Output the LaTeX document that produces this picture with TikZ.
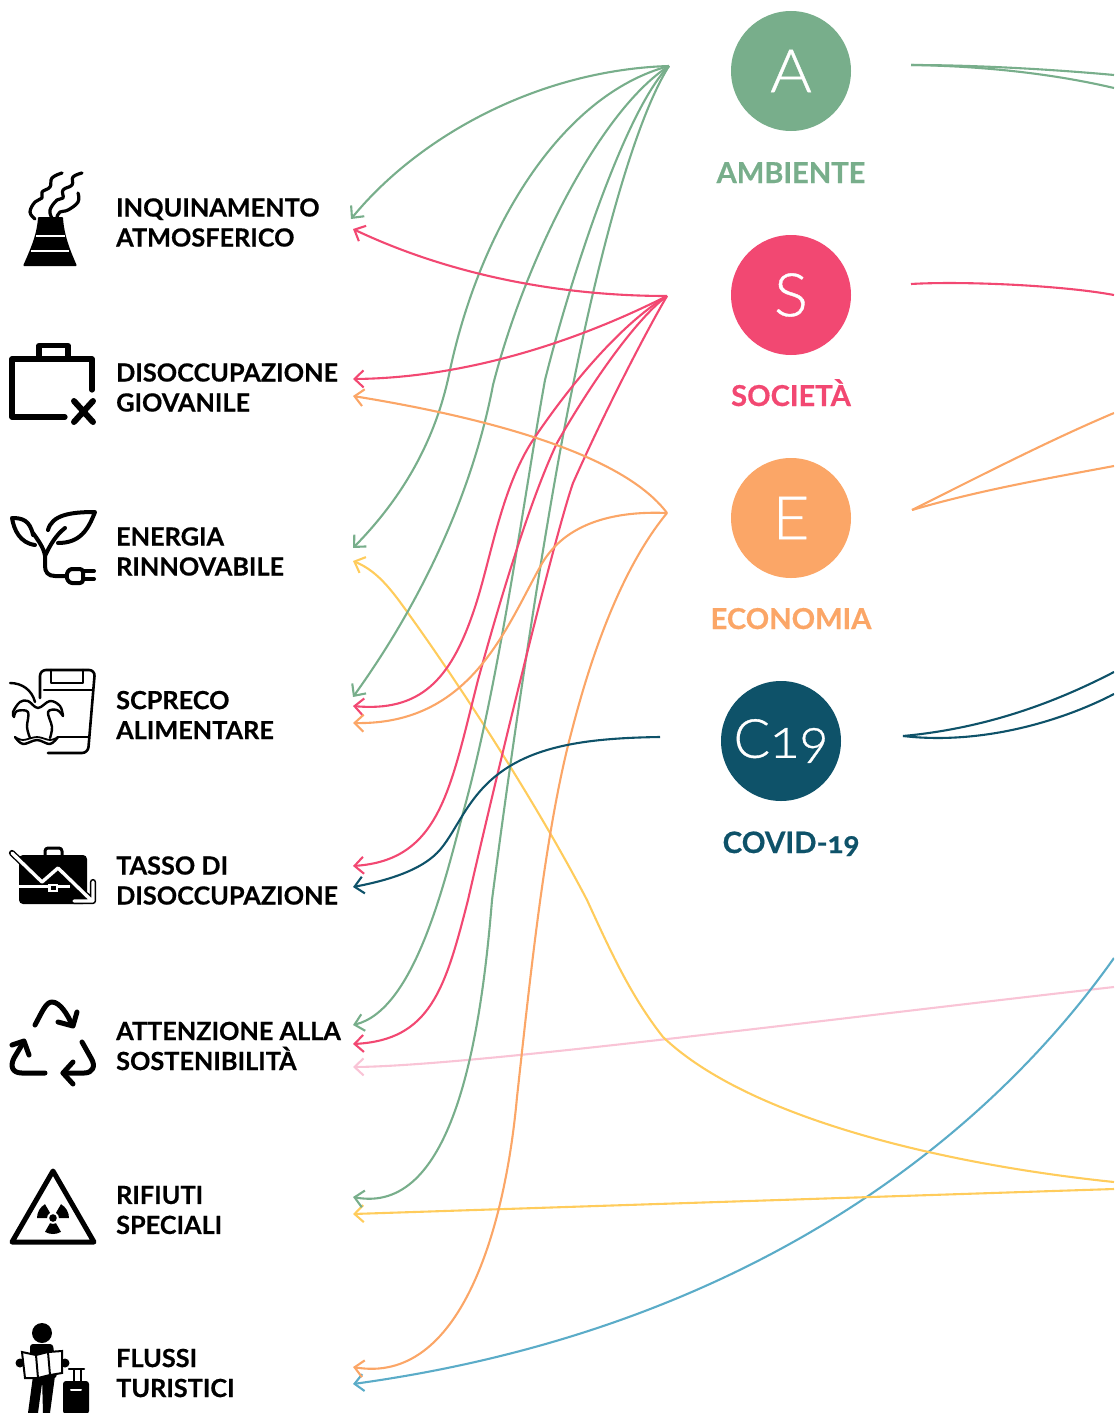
\documentclass[tikz,border=0pt]{standalone}
\usepackage{fontspec}
\usetikzlibrary{arrows.meta}
\setmainfont{Lato}
\newfontfamily\lblfont[FakeStretch=1.01,FakeBold=0.5]{Lato Bold}
\newfontfamily\onumfont[Numbers=OldStyle,FakeBold=0.5]{Lato Bold}
\newfontfamily\lightfont[FakeBold=0.6,FakeStretch=1.06]{Lato Light}
\newfontfamily\lightonum[Numbers=OldStyle,FakeBold=0.6]{Lato Light}
\definecolor{cgreen}{HTML}{78AE8B}
\definecolor{cred}{HTML}{F24872}
\definecolor{corange}{HTML}{FBA667}
\definecolor{cteal}{HTML}{0E5269}
\definecolor{cyellow}{HTML}{FFCC5C}
\definecolor{cpink}{HTML}{F9C4D6}
\definecolor{cblue}{HTML}{5BACC8}
\tikzset{
 link/.style={line width=2.1pt,-{Straight Barb[length=9pt,width=17pt,line width=2.1pt]}},
 plain/.style={line width=2.1pt},
 topic/.style={circle,minimum size=120pt,inner sep=0pt,text=white,font=\lightfont\fontsize{60}{60}\selectfont},
 topiclabel/.style={inner sep=0pt,anchor=base,font=\lblfont\fontsize{28.8}{30}\selectfont},
 itemlabel/.style={inner sep=0pt,anchor=west,align=left,text=black,font=\lblfont\fontsize{25}{30}\selectfont},
 ico/.style={line width=#1,line cap=round,line join=round,draw=black},
}
\begin{document}
\begin{tikzpicture}[x=1pt,y=-1pt]
\useasboundingbox (0,0) rectangle (1114,1413);
\clip (0,0) rectangle (1114,1413);
% sources
\coordinate (sA) at (669,66);
\coordinate (sS) at (667,296);
\coordinate (sE) at (667,513);
\coordinate (sC) at (660,737);
\coordinate (rA) at (911,65);
\coordinate (rS) at (911,284);
\coordinate (rE) at (912,510);
\coordinate (rC) at (903,736);
% targets
\coordinate (tI1) at (351,219);
\coordinate (tI2) at (353,229);
\coordinate (tD1) at (353,379);
\coordinate (tD2) at (353,396);
\coordinate (tR1) at (353,548);
\coordinate (tR2) at (353,561);
\coordinate (tP1) at (353,697);
\coordinate (tP2) at (353,706);
\coordinate (tP3) at (353,723);
\coordinate (tT1) at (353,866);
\coordinate (tT2) at (353,887);
\coordinate (tS1) at (353,1025);
\coordinate (tS2) at (353,1044);
\coordinate (tS3) at (353,1067);
\coordinate (tF1) at (353,1197);
\coordinate (tF2) at (353,1214);
\coordinate (tU1) at (353,1367);
\coordinate (tU2) at (353,1384);
\coordinate (eY1) at (1114,1182);
\coordinate (eY2) at (1114,1189);
\coordinate (eP) at (1114,987);
\coordinate (eB) at (1114,958);
\coordinate (eA1) at (1114,75);
\coordinate (eA2) at (1114,88);
\coordinate (eS) at (1114,295);
\coordinate (eE1) at (1114,413);
\coordinate (eE2) at (1114,466);
\coordinate (eC1) at (1114,672);
\coordinate (eC2) at (1114,694);
% pink, blue, yellow
\draw[link,cpink] (eP) .. controls (820,1020) and (470,1066) .. (tS3);
\draw[link,cblue] (eB) .. controls (985,1140) and (745,1330) .. (tU2);
\draw[link,cyellow] (eY1) .. controls (950,1165) and (750,1120) .. (663,1037) .. controls (630,995) and (610,950) .. (587,900) .. controls (540,810) and (470,700) .. (413,620) .. controls (395,595) and (380,572) .. (tR2);
\draw[link,cyellow] (eY2) -- (tF2);
% green
\draw[link,cgreen] (sA) .. controls (540,70) and (420,135) .. (tI1);
\draw[link,cgreen] (sA) .. controls (560,95) and (480,230) .. (450,370) .. controls (438,430) and (410,490) .. (tR1);
\draw[link,cgreen] (sA) .. controls (600,110) and (525,260) .. (493,385) .. controls (475,480) and (430,590) .. (tP1);
\draw[link,cgreen] (sA) .. controls (625,110) and (570,280) .. (545,380) .. controls (525,490) and (500,680) .. (463,813) .. controls (445,880) and (415,1010) .. (tS1);
\draw[link,cgreen] (sA) .. controls (635,120) and (600,250) .. (572,390) .. controls (545,520) and (510,760) .. (492,900) .. controls (480,1050) and (450,1215) .. (tF1);
% red
\draw[link,cred] (sS) .. controls (560,296) and (450,275) .. (tI2);
\draw[link,cred] (sS) .. controls (570,345) and (460,378) .. (tD1);
\draw[link,cred] (sS) .. controls (620,325) and (570,385) .. (533,440) .. controls (500,490) and (490,565) .. (473,613) .. controls (450,680) and (420,712) .. (tP2);
\draw[link,cred] (sS) .. controls (635,320) and (590,385) .. (557,443) .. controls (530,500) and (500,600) .. (478,680) .. controls (450,790) and (440,860) .. (tT1);
\draw[link,cred] (sS) .. controls (650,325) and (610,400) .. (573,483) .. controls (555,535) and (500,760) .. (468,900) .. controls (445,990) and (430,1040) .. (tS2);
% orange
\draw[link,corange] (sE) .. controls (620,450) and (470,415) .. (tD2);
\draw[link,corange] (sE) .. controls (620,511) and (565,520) .. (540,567) .. controls (505,630) and (470,725) .. (tP3);
\draw[link,corange] (sE) .. controls (620,570) and (590,660) .. (572,730) .. controls (545,830) and (530,980) .. (517,1097) .. controls (505,1230) and (460,1385) .. (tU1);
% teal
\draw[link,cteal] (sC) .. controls (590,738) and (535,745) .. (497,775) .. controls (465,800) and (455,835) .. (437,853) .. controls (420,870) and (390,880) .. (tT2);
% right side
\draw[plain,cgreen] (rA) .. controls (980,65) and (1060,70) .. (eA1);
\draw[plain,cgreen] (rA) .. controls (980,66) and (1050,73) .. (eA2);
\draw[plain,cred] (rS) .. controls (960,281) and (1060,285) .. (eS);
\draw[plain,corange] (rE) .. controls (980,476) and (1050,440) .. (eE1);
\draw[plain,corange] (rE) .. controls (980,490) and (1050,478) .. (eE2);
\draw[plain,cteal] (rC) .. controls (990,728) and (1060,700) .. (eC1);
\draw[plain,cteal] (rC) .. controls (980,745) and (1060,722) .. (eC2);
% topics
\node[topic,fill=cgreen] (cA) at (791,71) {\raisebox{-1pt}{A}};
\node[topic,fill=cred] (cS) at (791,295) {\raisebox{-1pt}{S}};
\node[topic,fill=corange] (cE) at (791,518) {E};
\node[topic,fill=cteal] (cC) at (781,741) {\lightonum\fontsize{54}{54}\selectfont C19};
\node[topiclabel,text=cgreen] (lA) at (791,183) {AMBIENTE};
\node[topiclabel,text=cred] (lS) at (791,406) {SOCIETÀ};
\node[topiclabel,text=corange] (lE) at (791,629) {ECONOMIA};
\node[topiclabel,text=cteal] (lC) at (791,853) {\onumfont\fontsize{29.5}{30}\selectfont COVID-19};
% labels
\node[itemlabel] (i1) at (116,222.5) {INQUINAMENTO\\ATMOSFERICO};
\node[itemlabel] (i2) at (116,387.5) {DISOCCUPAZIONE\\GIOVANILE};
\node[itemlabel] (i3) at (116,551.5) {ENERGIA\\RINNOVABILE};
\node[itemlabel] (i4) at (116,715) {SCPRECO\\ALIMENTARE};
\node[itemlabel] (i5) at (116,880.5) {TASSO DI\\DISOCCUPAZIONE};
\node[itemlabel] (i6) at (116,1046) {ATTENZIONE ALLA\\SOSTENIBILITÀ};
\node[itemlabel] (i7) at (116,1210) {RIFIUTI\\SPECIALI};
\node[itemlabel] (i8) at (116,1373) {FLUSSI\\TURISTICI};
% factory
\fill[black,rounded corners=1pt] (38,217) .. controls (37,235) and (30,250) .. (23,266) -- (77,266) .. controls (70,250) and (64,235) .. (63,217) -- cycle;
\draw[white,line width=2pt] (36,236) -- (65,236) (31,251) -- (69,251);
\draw[ico=3.2pt] plot[smooth,tension=.7] coordinates {(35,219) (30,212) (35,202) (42,198) (42,192) (50,187) (52,178) (62,173)};
\draw[ico=3.2pt] plot[smooth,tension=.7] coordinates {(52,218) (50,210) (57,200) (63,198) (63,190) (72,185) (73,177) (82,173)};
\draw[ico=3.2pt] plot[smooth,tension=.7] coordinates {(78,193) (78,202) (68,210) (60,212) (57,217)};
% briefcase x
\draw[ico=5.2pt] (65,417) -- (12,417) -- (12,359) -- (92,359) -- (92,390);
\draw[ico=5.2pt] (39,359) -- (39,345.5) -- (68,345.5) -- (68,359);
\draw[ico=6pt] (74,401) -- (93,422) (93,401) -- (74,422);
% plant
\draw[ico=4pt] (33,535) .. controls (30,520) and (22,518) .. (12,518) .. controls (14,530) and (20,543) .. (35,545);
\draw[ico=4pt] (48,530) .. controls (52,515) and (70,512) .. (95,512) .. controls (88,530) and (80,543) .. (58,543);
\draw[ico=4pt] (33,533) .. controls (38,540) and (44,548) .. (45,556) .. controls (50,545) and (56,535) .. (65,528);
\draw[ico=4pt] (45,556) -- (45,566) .. controls (45,572) and (48,576) .. (55,576) -- (66,576);
\draw[ico=4pt,rounded corners=3pt] (75,569) -- (69,569) -- (66,576) -- (69,583) -- (76,583) -- (83,583) -- (83,569) -- cycle;
\draw[ico=4pt] (83,571) -- (94,571) (83,579) -- (94,579);
% trash and apple
\draw[ico=2.6pt,rounded corners=6pt] (40,698) -- (40,670) -- (95,670) -- (88,753) -- (48,753);
\draw[ico=2.6pt] (51,670) -- (51,683) -- (83,683) -- (83,670);
\draw[ico=2.6pt] (44,690) -- (93,690);
\draw[ico=2.6pt] (58,737) -- (88,737);
\draw[ico=2.4pt] (10,683) .. controls (22,683) and (32,690) .. (35,702);
\draw[ico=2.4pt] plot[smooth,tension=.6] coordinates {(14,717) (13,712) (20,702) (28,701) (38,708) (50,701) (60,706) (63,716)};
\draw[ico=2.4pt] plot[smooth,tension=.6] coordinates {(14,717) (17,711) (28,712) (27,727) (30,738)};
\draw[ico=2.4pt] plot[smooth,tension=.6] coordinates {(63,716) (57,710) (48,712) (52,727) (50,738)};
\draw[ico=2.4pt] plot[smooth,tension=.6] coordinates {(15,737) (23,744) (37,740) (50,744) (58,737)};
\draw[ico=1.8pt] plot[smooth,tension=.6] coordinates {(15,737) (23,740) (37,737) (50,740) (58,737)};
% briefcase chart
\fill[black,rounded corners=4pt] (19,855) rectangle (87,904);
\draw[ico=3pt,rounded corners=3pt] (45,855) -- (45,848) -- (62,848) -- (62,855);
\fill[white] (19,884.5) rectangle (70,888);
\fill[white] (48,884) rectangle (58,892);
\fill[black] (50.5,886) rectangle (55.5,890);
\draw[ico=6.2pt] (12,853) -- (42,882) -- (58,868) -- (90,899) (93,882) -- (93,901) -- (74,901);
\draw[ico=3.4pt,white] (12,853) -- (42,882) -- (58,868) -- (90,899) (93,882) -- (93,901) -- (74,901);
% recycle
\draw[ico=5pt] (35,1025) .. controls (42,1012) and (46,1002) .. (52,1002) .. controls (60,1002) and (68,1015) .. (72,1025);
\draw[ico=5pt] (58,1022) -- (73,1026) -- (77,1012);
\draw[ico=5pt] (45,1073) -- (22,1073) .. controls (12,1073) and (10,1066) .. (14,1058) -- (23,1043);
\draw[ico=5pt] (12,1045) -- (24,1041) -- (29,1055);
\draw[ico=5pt] (82,1042) -- (91,1058) .. controls (96,1066) and (93,1073) .. (84,1073) -- (63,1073);
\draw[ico=5pt] (73,1062) -- (63,1073) -- (73,1084);
% radiation sign
\draw[ico=5pt] (53,1171) -- (12,1242) -- (94,1242) -- cycle;
\begin{scope}[shift={(53,1218)},x=1pt,y=1pt]
\fill[black] (0,0) circle (3.8);
\fill[black] (120:6) -- (120:16) arc[start angle=120,end angle=180,radius=16] -- (180:6) arc[start angle=180,end angle=120,radius=6] -- cycle;
\fill[black] (0:6) -- (0:16) arc[start angle=0,end angle=60,radius=16] -- (60:6) arc[start angle=60,end angle=0,radius=6] -- cycle;
\fill[black] (240:6) -- (240:16) arc[start angle=240,end angle=300,radius=16] -- (300:6) arc[start angle=300,end angle=240,radius=6] -- cycle;
\end{scope}
% traveller
\fill[black] (42,1333) circle (10);
\fill[black,rounded corners=3pt] (30,1344) -- (53,1344) -- (57,1378) -- (30,1378) -- cycle;
\fill[black] (20,1363) circle (4.5) (65,1363) circle (4.5);
\fill[black] (33,1376) -- (43,1376) -- (38,1413) -- (28,1413) -- cycle;
\fill[black] (42,1376) -- (55,1376) -- (50,1413) -- (43,1413) -- cycle;
\draw[ico=2pt,fill=white,line join=miter] (22,1352) -- (36,1355) -- (48,1352) -- (62,1351) -- (62,1373) -- (50,1375) -- (38,1378) -- (25,1378) -- cycle;
\draw[ico=2pt] (36,1355) -- (38,1378) (48,1352) -- (50,1375);
\fill[black,rounded corners=3pt] (63,1381) rectangle (89,1414);
\draw[ico=2.5pt,line cap=butt] (74,1381) -- (74,1369) (81,1381) -- (81,1369);
\draw[ico=2.5pt] (69,1369) -- (84,1369);
\draw[white,line width=2pt,line cap=round] (71,1390) -- (81,1390);
\end{tikzpicture}
\end{document}
